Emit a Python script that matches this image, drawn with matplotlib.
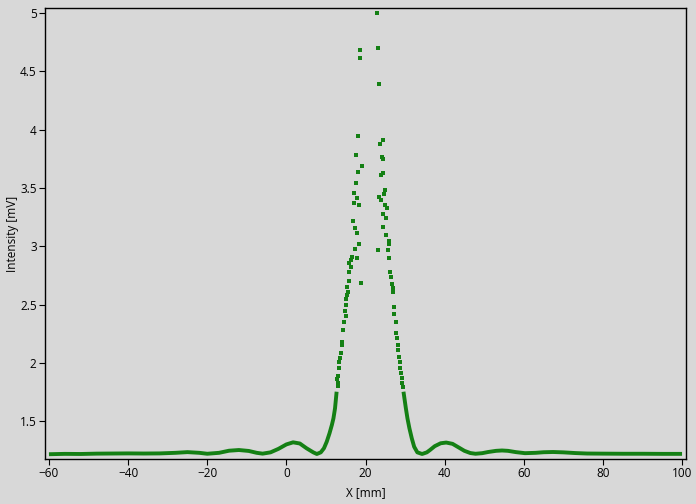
import matplotlib
matplotlib.use("Agg")
import matplotlib.pyplot as plt

# Continuous (dense) parts of the measured curve
left_x = [-60, -56, -52, -48, -44, -40, -36, -32, -28, -25, -22, -20, -17, -14.5, -12, -9.5,
          -7.5, -6, -4, -2, 0, 1.7, 3.4, 5.1, 6.8, 7.7, 8.7, 9.5, 10.2, 10.9, 11.5, 11.9, 12.3, 12.7]
left_y = [1.216, 1.219, 1.218, 1.221, 1.222, 1.223, 1.222, 1.223, 1.228, 1.234, 1.228, 1.220, 1.228,
          1.246, 1.252, 1.244, 1.228, 1.221, 1.232, 1.262, 1.300, 1.318, 1.308, 1.267, 1.232, 1.218,
          1.232, 1.267, 1.323, 1.395, 1.467, 1.524, 1.61, 1.752]

right_x = [29.6, 30.2, 30.6, 31.1, 31.7, 32.3, 33.1, 34.3, 35.5, 36.3, 37.5, 39, 40.4, 42, 43.5, 45,
           46.5, 47.8, 49.5, 51, 53, 54.5, 56, 58, 60.3, 63, 65, 67.4, 70, 73, 76, 80, 85, 90, 95, 100]
right_y = [1.752, 1.61, 1.524, 1.438, 1.352, 1.28, 1.232, 1.218, 1.232, 1.252, 1.285, 1.31, 1.316,
           1.305, 1.275, 1.245, 1.226, 1.220, 1.225, 1.235, 1.245, 1.248, 1.245, 1.234, 1.225, 1.228,
           1.233, 1.235, 1.232, 1.226, 1.222, 1.221, 1.220, 1.220, 1.219, 1.219]

# Sparse points around the main peak
peak_x = [18.6, 18.6, 18.2, 17.6, 19.0, 18.2, 17.6, 17.1, 17.8, 17.1, 18.4, 16.9, 17.3, 17.9, 18.4,
          17.4, 16.6, 16.3, 15.9, 17.8, 16.4, 15.9, 15.8, 15.4, 18.9, 15.5, 15.3, 15.15, 15.0, 14.8,
          15.0, 14.65, 14.4, 14.1, 14.0, 13.8, 13.55, 13.3, 13.3, 13.0, 12.8, 12.95, 13.15,
          23.0, 23.2, 23.5, 24.5, 23.7, 24.1, 24.4, 24.5, 23.9, 25.0, 24.7, 23.5, 23.8, 24.9, 25.4,
          24.5, 25.2, 24.4, 25.2, 25.9, 26.0, 23.2, 25.8, 26.0, 26.2, 26.5, 26.7, 26.9, 27.0, 27.1,
          27.3, 27.6, 27.8, 28.0, 28.1, 28.3, 28.5, 28.65, 28.8, 29.0, 29.15, 29.3, 29.45]
peak_y = [4.683, 4.611, 3.945, 3.782, 3.688, 3.64, 3.545, 3.454, 3.41, 3.368, 3.353, 3.216, 3.159,
          3.11, 3.016, 2.976, 2.91, 2.882, 2.853, 2.90, 2.824, 2.776, 2.70, 2.653, 2.682, 2.61, 2.582,
          2.545, 2.496, 2.447, 2.40, 2.353, 2.281, 2.181, 2.153, 2.087, 2.039, 2.01, 1.953, 1.887, 1.858,
          1.80, 1.83,
          5.0, 4.697, 4.391, 3.911, 3.874, 3.762, 3.745, 3.63, 3.61, 3.482, 3.448, 3.42, 3.40, 3.353,
          3.325, 3.273, 3.239, 3.167, 3.10, 3.045, 3.016, 2.967, 2.967, 2.90, 2.78, 2.74, 2.68, 2.64,
          2.605, 2.481, 2.418, 2.353, 2.258, 2.21, 2.153, 2.11, 2.053, 2.01, 1.953, 1.91, 1.867,
          1.83, 1.79]

x_ticks = [-60, -40, -20, 0, 20, 40, 60, 80, 100]
y_ticks = [1.5, 2, 2.5, 3, 3.5, 4, 4.5, 5]
y_tick_labels = ["1.5", "2", "2.5", "3", "3.5", "4", "4.5", "5"]

plt.rcParams['font.family'] = ['Open Sans', 'DejaVu Sans']
bg = '#d8d8d8'
green = '#148014'

fig = plt.figure(figsize=(6.96, 5.04), dpi=100, facecolor=bg)
ax = fig.add_axes([45 / 696, 45 / 504, 641 / 696, 451 / 504], facecolor=bg)

for xs, ys in ((left_x, left_y), (right_x, right_y)):
    ax.plot(xs, ys, color=green, lw=2.8, solid_capstyle='butt')
ax.scatter(peak_x, peak_y, s=5, marker='s', color=green, linewidths=0)

ax.set_xlim(-61.0, 101.0)
ax.set_ylim(1.175, 5.043)
ax.set_xticks(x_ticks)
ax.set_yticks(y_ticks)
ax.set_yticklabels(y_tick_labels)
ax.tick_params(axis='both', direction='out', length=4, width=0.8, labelsize=8.5,
               colors='black', pad=2)
for s in ax.spines.values():
    s.set_color('black')
    s.set_linewidth(1.0)
ax.set_xlabel("X [mm]", fontsize=8.5, labelpad=4)
ax.set_ylabel("Intensity [mV]", fontsize=8.5, labelpad=1)

fig.savefig("out.png", dpi=100, facecolor=bg)
